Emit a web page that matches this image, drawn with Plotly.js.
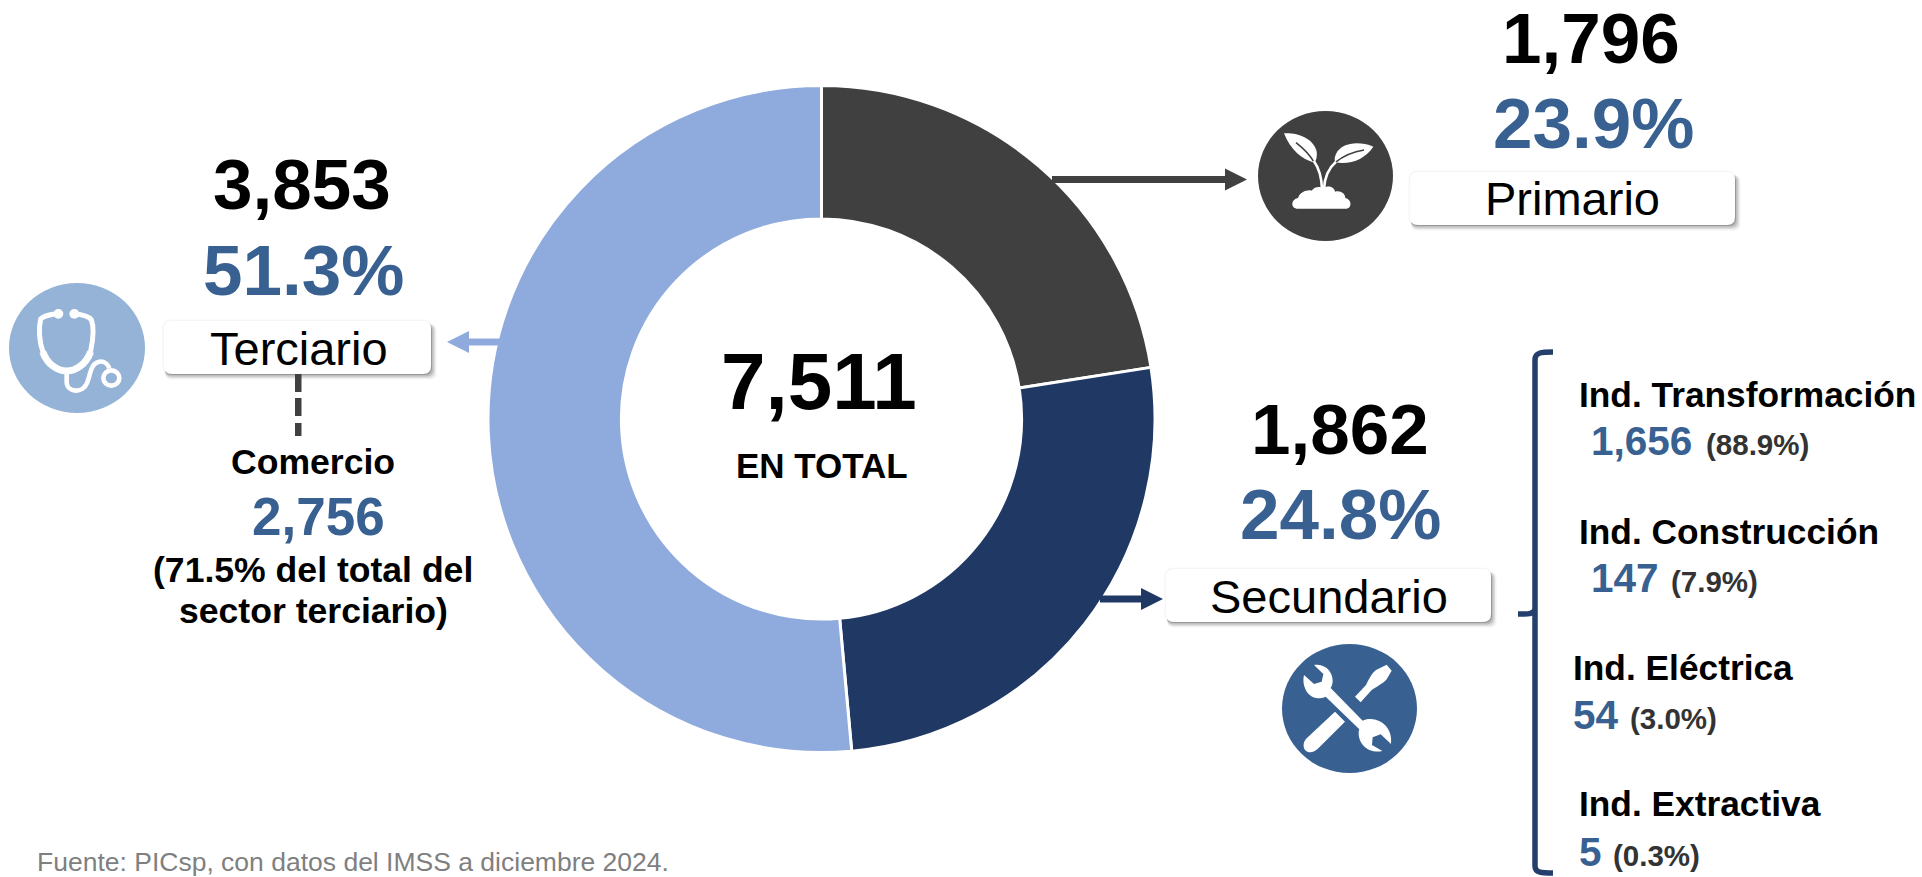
<!DOCTYPE html>
<html lang="es">
<head>
<meta charset="utf-8">
<title>Sectores</title>
<script src="https://cdn.plot.ly/plotly-3.0.1.min.js"></script>
<style>html,body{margin:0;padding:0;background:#fff;overflow:hidden}#chart{width:1922px;height:877px}</style>
</head>
<body>
<div id="chart"></div>
<script>
// ---- Data ----
const sectors = ['Primario', 'Secundario', 'Terciario'];
// Numbers printed beside the ring
const sectorCounts = ['1,796', '1,862', '3,853'];
const sectorShares = ['23.9%', '24.8%', '51.3%'];
// Sizes of the slices as they are actually drawn in the reference (read from
// the boundary angles 81.1 and 174.8 degrees); they differ a little from the printed numbers.
const sliceValues = [1692, 1955, 3864];
const sliceColors = ['#404040', '#1F3864', '#8FAADC'];
const totalValue = '7,511';
const totalLabel = 'EN TOTAL';
const subSectors = ['Ind. Transformación', 'Ind. Construcción', 'Ind. Eléctrica', 'Ind. Extractiva'];
const subCounts = ['1,656', '147', '54', '5'];
const subShares = ['(88.9%)', '(7.9%)', '(3.0%)', '(0.3%)'];
const commerceName = 'Comercio';
const commerceCount = '2,756';
const commerceNote = ['(71.5% del total del', 'sector terciario)'];
const sourceNote = 'Fuente: PICsp, con datos del IMSS a diciembre 2024.';

// ---- Helpers: pixel positions to paper fractions ----
const W = 1922, H = 877;
const FONT = '"Liberation Sans", Arial, sans-serif';
const BLUE = '#386192', BLACK = '#000000', GREY = '#404040', NAVY = '#1F3864';
const fx = x => x / W, fy = y => 1 - y / H;

function txt(text, x, baseline, size, color, bold, anchor) {
  return {
    text: bold ? '<b>' + text + '</b>' : text,
    xref: 'paper', yref: 'paper',
    x: fx(x), y: fy(baseline - 0.905 * size),
    xanchor: anchor || 'center', yanchor: 'top',
    showarrow: false, borderpad: 0, borderwidth: 0,
    font: {family: FONT, size: size, color: color}
  };
}
// Converts an M/L/C/Q/Z path given in a local frame to paper coordinates
function path(d, ox, oy, k) {
  ox = ox || 0; oy = oy || 0; k = k || 1;
  let isX = true;
  return d.replace(/-?\d+(\.\d+)?/g, m => {
    const v = parseFloat(m);
    const out = isX ? fx(ox + v * k) : fy(oy + v * k);
    isX = !isX;
    return out.toFixed(6);
  });
}
function fillPath(d, color, ox, oy, k, opacity) {
  return {type: 'path', xref: 'paper', yref: 'paper', path: path(d, ox, oy, k),
    fillcolor: color, line: {width: 0}, opacity: opacity === undefined ? 1 : opacity};
}
function strokePath(d, color, width, ox, oy, k) {
  return {type: 'path', xref: 'paper', yref: 'paper', path: path(d, ox, oy, k),
    fillcolor: 'rgba(0,0,0,0)', line: {color: color, width: width}};
}
function ellipse(x0, y0, x1, y1, color, lineColor, lineWidth) {
  return {type: 'circle', xref: 'paper', yref: 'paper',
    x0: fx(x0), x1: fx(x1), y0: fy(y1), y1: fy(y0),
    fillcolor: color, line: lineColor ? {color: lineColor, width: lineWidth} : {width: 0}};
}
function rect(x0, y0, x1, y1, color) {
  return {type: 'rect', xref: 'paper', yref: 'paper',
    x0: fx(x0), x1: fx(x1), y0: fy(y1), y1: fy(y0), fillcolor: color, line: {width: 0}};
}
function round(x0, y0, x1, y1, r) {
  return `M ${x0+r} ${y0} L ${x1-r} ${y0} Q ${x1} ${y0} ${x1} ${y0+r} L ${x1} ${y1-r} Q ${x1} ${y1} ${x1-r} ${y1} L ${x0+r} ${y1} Q ${x0} ${y1} ${x0} ${y1-r} L ${x0} ${y0+r} Q ${x0} ${y0} ${x0+r} ${y0} Z`;
}
function labelBox(x0, y0, x1, y1) {
  const out = [fillPath(round(x0 - 1.5, y0 - 1.5, x1 + 1, y1 + 1, 9), '#000000', 0, 0, 1, 0.035)];
  [[6, 0.05], [4.5, 0.09], [3, 0.13], [1.5, 0.17]].forEach(([g, o]) => {
    out.push(fillPath(round(x0 + 1, y0 + 3, x1 + g - 0.5, y1 + g - 0.5, 7), '#000000', 0, 0, 1, o));
  });
  out.push(fillPath(round(x0, y0, x1, y1, 8), '#FFFFFF'));
  return out;
}
function arrowRight(x0, tip, y, color) {
  return [rect(x0, y - 3.5, tip - 21, y + 3.5, color),
    fillPath(`M ${tip-22} ${y-11} L ${tip} ${y} L ${tip-22} ${y+11} Z`, color)];
}
function arrowLeft(x0, tip, y, color) {
  return [rect(tip + 21, y - 3.5, x0, y + 3.5, color),
    fillPath(`M ${tip+22} ${y-11} L ${tip} ${y} L ${tip+22} ${y+11} Z`, color)];
}

// ---- Icons ----
function plantIcon() {
  const o = [1270, 120, 1/3], W_ = '#FFFFFF', D = '#404040';
  return [
    fillPath('M 42 40 C 85 38 130 55 140 95 C 142 110 138 122 133 128 C 95 118 62 90 42 40 Z', W_, ...o),
    strokePath('M 78 68 C 100 85 120 105 133 128', D, 1.6, ...o),
    fillPath('M 310 80 C 265 62 215 68 198 102 C 193 112 193 120 196 127 C 240 135 285 118 310 80 Z', W_, ...o),
    strokePath('M 282 90 C 250 95 220 108 196 127', D, 1.6, ...o),
    strokePath('M 131 122 C 148 145 155 175 156 208', W_, 2.6, ...o),
    strokePath('M 198 125 C 175 145 163 175 162 208', W_, 2.6, ...o),
    fillPath('M 80 266 C 62 264 62 238 84 234 C 90 216 112 208 125 212 C 135 198 152 200 160 205 C 170 196 192 198 195 215 C 212 210 226 222 226 234 C 246 238 246 264 230 266 Z', W_, ...o)
  ];
}
function toolsIcon() {
  const o = [1290, 650, 1/3], W_ = '#FFFFFF';
  return [
    fillPath('M 195 140 L 228 105 C 238 85 245 70 258 60 L 290 44 L 305 62 L 290 88 C 280 100 260 110 245 120 L 212 157 Z', W_, ...o),
    fillPath('M 135 185 L 165 215 L 85 295 C 70 310 55 310 45 300 C 38 290 40 275 50 265 Z', W_, ...o),
    fillPath('M 72 45 C 100 40 128 60 128 92 C 128 100 126 108 122 114 L 218 212 C 226 208 238 206 248 208 C 285 212 308 245 303 282 L 272 253 L 248 262 L 246 285 L 277 303 C 240 312 205 285 206 248 C 206 244 207 240 208 238 L 107 140 C 100 143 92 145 84 145 C 50 142 35 105 42 75 L 72 102 L 95 95 L 100 72 Z', W_, ...o)
  ];
}
function stethoscopeIcon() {
  const o = [20, 295, 1/3], W_ = '#FFFFFF', ox = o[0], oy = o[1];
  return [
    strokePath('M 112 56 C 90 58 72 62 62 72 C 55 100 58 140 68 168 C 82 208 112 230 140 230 C 168 230 198 208 212 168 C 220 130 222 95 214 74 C 205 62 185 58 162 56', W_, 5, ...o),
    strokePath('M 68 170 C 82 208 112 228 140 228 C 168 228 198 208 212 170', W_, 7, ...o),
    ellipse(ox + 100/3, oy + 42/3, ox + 130/3, oy + 71/3, W_),
    ellipse(ox + 148/3, oy + 42/3, ox + 178/3, oy + 71/3, W_),
    strokePath('M 140 230 L 140 262 C 142 292 188 298 202 262 C 212 235 212 205 238 200 C 254 198 264 208 268 220', W_, 4.6, ...o),
    ellipse(ox + 250/3, oy + 226/3, ox + 298/3, oy + 272/3, 'rgba(0,0,0,0)', W_, 4.6)
  ];
}

// ---- Marks ----
const ringLeft = 488, ringRight = 1155, ringTop = 85.5, ringBottom = 752.5;
const trace = {
  type: 'pie',
  labels: sectors,
  values: sliceValues,
  hole: 0.6,
  sort: false,
  direction: 'clockwise',
  rotation: 0,
  textinfo: 'none',
  hoverinfo: 'label',
  showlegend: false,
  marker: {colors: sliceColors, line: {color: '#FFFFFF', width: 3}},
  domain: {x: [fx(ringLeft), fx(ringRight)], y: [fy(ringBottom), fy(ringTop)]}
};

const shapes = [].concat(
  arrowRight(1052, 1247, 179.5, GREY),
  arrowRight(1100, 1163, 599, NAVY),
  arrowLeft(500, 447, 342, '#8FAADC'),
  labelBox(164, 321, 431, 374),
  labelBox(1410, 172, 1735, 225),
  labelBox(1166, 569, 1491, 622),
  [ellipse(9, 283, 145, 413, '#95B3D7'),
   ellipse(1258, 111, 1393, 241, GREY),
   ellipse(1282, 644, 1417, 773, BLUE)],
  stethoscopeIcon(), plantIcon(), toolsIcon(),
  [rect(295, 374, 301.5, 392, GREY), rect(295, 398, 301.5, 416, GREY), rect(295, 423, 301.5, 436, GREY)],
  [strokePath('M 1553 352 C 1542 352 1535 352 1535 360 L 1535 866 C 1535 873 1542 873 1553 873', '#243F6B', 5.5),
   strokePath('M 1518 614 C 1526 614 1532 615 1535 610', '#243F6B', 5.5)]
);

const annotations = [
  txt(totalValue, 819, 409, 80, BLACK, true),
  txt(totalLabel, 822, 478, 35, BLACK, true),
  // Primario
  txt(sectorCounts[0], 1591, 63, 71, BLACK, true),
  txt(sectorShares[0], 1593, 148, 71, BLUE, true),
  txt(sectors[0], 1572, 215, 47, BLACK, false),
  // Secundario
  txt(sectorCounts[1], 1340, 454, 71, BLACK, true),
  txt(sectorShares[1], 1340, 539, 71, BLUE, true),
  txt(sectors[1], 1329, 613, 47, BLACK, false),
  // Terciario
  txt(sectorCounts[2], 302, 209, 71, BLACK, true),
  txt(sectorShares[2], 303, 295, 71, BLUE, true),
  txt(sectors[2], 298.5, 365, 47, BLACK, false),
  txt(commerceName, 312.5, 474, 35.6, BLACK, true),
  txt(commerceCount, 318, 535, 53, BLUE, true),
  txt(commerceNote[0], 313, 582, 35.6, BLACK, true),
  txt(commerceNote[1], 313, 623, 35.6, BLACK, true),
  // Source
  txt(sourceNote, 37, 871, 26.5, '#7F7F7F', false, 'left')
];
const subX = [1579, 1579, 1573, 1579];
const subNumX = [1591, 1591, 1573, 1579];
const subShareX = [1706, 1671, 1630, 1613];
const subNameBase = [407, 544, 680, 816];
const subNumBase = [455, 592, 729, 866];
subSectors.forEach((name, i) => {
  annotations.push(txt(name, subX[i], subNameBase[i], 35.3, BLACK, true, 'left'));
  annotations.push(txt(subCounts[i], subNumX[i], subNumBase[i], 40.5, BLUE, true, 'left'));
  annotations.push(txt(subShares[i], subShareX[i], subNumBase[i], 29.5, '#333333', true, 'left'));
});

Plotly.newPlot('chart', [trace], {
  width: W, height: H,
  margin: {l: 0, r: 0, t: 0, b: 0, pad: 0},
  paper_bgcolor: '#FFFFFF',
  showlegend: false,
  shapes: shapes,
  annotations: annotations
}, {displayModeBar: false, responsive: false});
</script>
</body>
</html>
